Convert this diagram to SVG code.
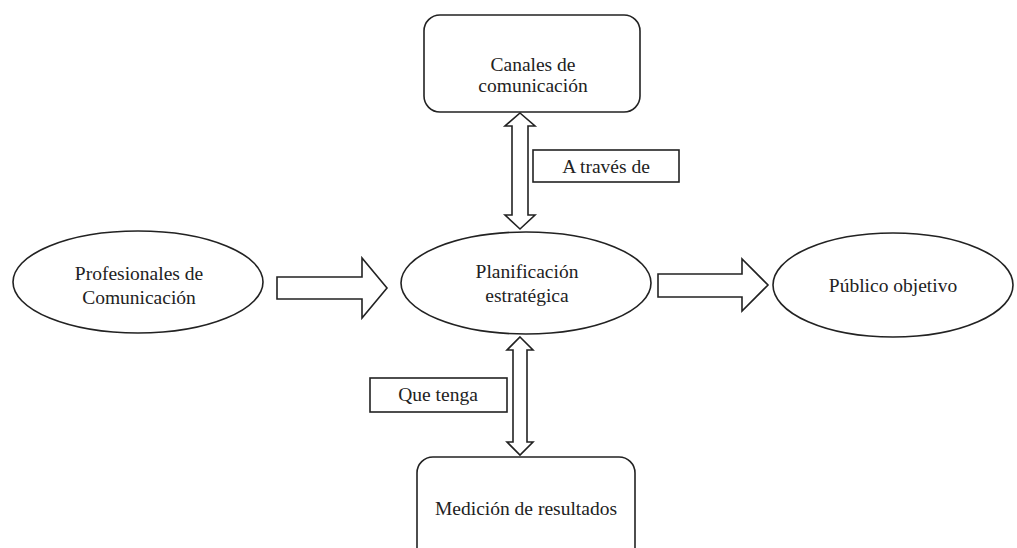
<svg xmlns="http://www.w3.org/2000/svg" width="1017" height="548" viewBox="0 0 1017 548">
<style>
.s{fill:#fff;stroke:#222;stroke-width:1.6}
.t{font-family:"Liberation Serif",serif;font-size:19.5px;fill:#222;text-anchor:middle}
</style>
<rect width="1017" height="548" fill="#fff"/>
<g id="connectors">
<polygon class="s" points="520,113 535,126 528,126 528,215 535,215 520,229 505,215 512,215 512,126 505,126"/>
<polygon class="s" points="520,337 533,350 527,350 527,442 533,442 520,455 507,442 513,442 513,350 507,350"/>
<polygon class="s" points="277,277 362,277 362,258 387,288 362,318 362,299 277,299"/>
<polygon class="s" points="658,274 742,274 742,259 768,285 742,311 742,297 658,297"/>
</g>
<g id="canales"><rect class="s" x="424" y="15" width="216" height="97" rx="16"/><text class="t" x="533" y="71">Canales de</text><text class="t" x="533" y="92">comunicación</text></g>
<g id="atraves"><rect class="s" x="533" y="150" width="146" height="32"/><text class="t" x="606" y="173">A través de</text></g>
<g id="profesionales"><ellipse class="s" cx="138" cy="282" rx="125" ry="51"/><text class="t" x="139" y="280">Profesionales de</text><text class="t" x="139" y="304">Comunicación</text></g>
<g id="planificacion"><ellipse class="s" cx="526" cy="283" rx="125" ry="51"/><text class="t" x="527" y="278">Planificación</text><text class="t" x="527" y="302">estratégica</text></g>
<g id="publico"><ellipse class="s" cx="893" cy="285" rx="120" ry="52"/><text class="t" x="893" y="292">Público objetivo</text></g>
<g id="quetenga"><rect class="s" x="370" y="378" width="137" height="34"/><text class="t" x="438" y="401">Que tenga</text></g>
<g id="medicion"><rect class="s" x="417" y="457" width="218" height="110" rx="16"/><text class="t" x="526" y="515">Medición de resultados</text></g>
</svg>
